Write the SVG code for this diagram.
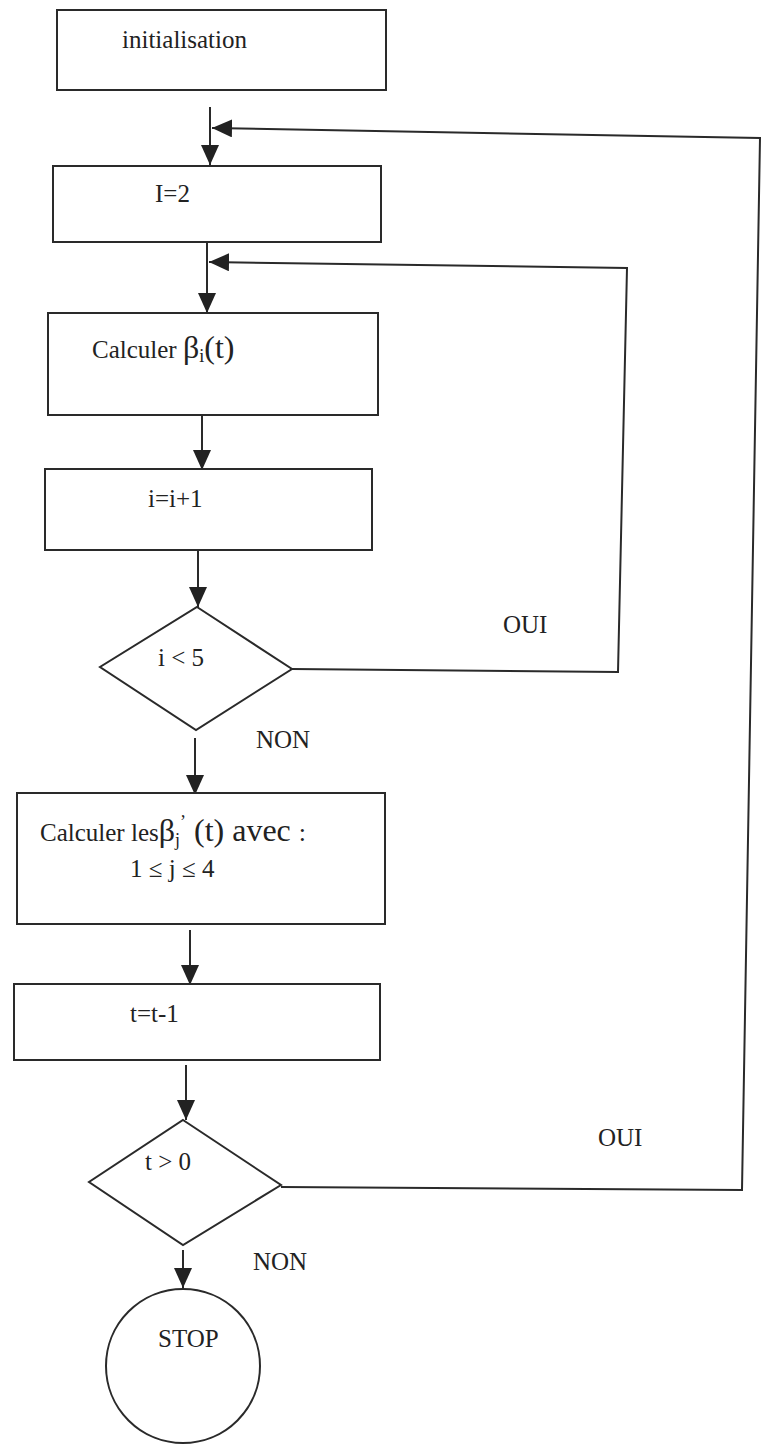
<svg xmlns="http://www.w3.org/2000/svg" width="762" height="1446" viewBox="0 0 762 1446">
<style>
.n{fill:#fff;stroke:#2a2a2a;stroke-width:2}
.c{fill:none;stroke:#2a2a2a;stroke-width:2}
text{font-family:"Liberation Serif","Times New Roman",serif;font-size:25px;fill:#222}
</style>
<defs>
<marker id="ah" markerUnits="userSpaceOnUse" markerWidth="20" markerHeight="18" refX="20" refY="9" orient="auto">
<path d="M0,0 L20,9 L0,18 Z" fill="#222"/>
</marker>
</defs>
<rect width="762" height="1446" fill="#fff"/>
<g id="connectors">
<line class="c" x1="210" y1="107" x2="210" y2="165" marker-end="url(#ah)"/>
<polyline class="c" points="281,1187 742,1190 760,138 212,128" marker-end="url(#ah)"/>
<line class="c" x1="207" y1="240" x2="207" y2="313" marker-end="url(#ah)"/>
<polyline class="c" points="292,669 618,672 627,268 209,262" marker-end="url(#ah)"/>
<line class="c" x1="202" y1="415" x2="202" y2="470" marker-end="url(#ah)"/>
<line class="c" x1="198" y1="550" x2="198" y2="607" marker-end="url(#ah)"/>
<line class="c" x1="195" y1="738" x2="195" y2="795" marker-end="url(#ah)"/>
<line class="c" x1="190" y1="930" x2="190" y2="985" marker-end="url(#ah)"/>
<line class="c" x1="186" y1="1065" x2="186" y2="1120" marker-end="url(#ah)"/>
<line class="c" x1="183" y1="1250" x2="183" y2="1288" marker-end="url(#ah)"/>
<text x="503" y="633">OUI</text>
<text x="256" y="748" font-size="26">NON</text>
<text x="598" y="1146">OUI</text>
<text x="253" y="1270" font-size="26">NON</text>
</g>
<g id="init">
<rect class="n" x="57" y="10" width="329" height="80"/>
<text x="122" y="48" font-size="26">initialisation</text>
</g>
<g id="i2">
<rect class="n" x="53" y="166" width="328" height="76"/>
<text x="155" y="202">I=2</text>
</g>
<g id="calc-beta">
<rect class="n" x="48" y="313" width="330" height="102"/>
<text x="92" y="358">Calculer <tspan font-size="32">β</tspan><tspan font-size="18" dy="4">i</tspan><tspan font-size="32" dy="-4">(t)</tspan></text>
</g>
<g id="incr">
<rect class="n" x="45" y="469" width="327" height="81"/>
<text x="148" y="507">i=i+1</text>
</g>
<g id="cond-i">
<polygon class="n" points="197,607 292,669 196,730 100,667"/>
<text x="158" y="666" font-size="27">i &lt; 5</text>
</g>
<g id="calc-betaj">
<rect class="n" x="17" y="793" width="368" height="131"/>
<text x="40" y="841">Calculer les<tspan font-size="32">β</tspan><tspan font-size="18" dy="5">j</tspan><tspan font-size="18" dy="-18">’</tspan><tspan font-size="32" dy="13"> (t) avec </tspan><tspan font-size="26">:</tspan></text>
<text x="130" y="877" font-size="32">1 ≤ j ≤ 4</text>
</g>
<g id="decr">
<rect class="n" x="14" y="984" width="366" height="76"/>
<text x="130" y="1022">t=t-1</text>
</g>
<g id="cond-t">
<polygon class="n" points="183,1120 281,1185 183,1245 89,1182"/>
<text x="145" y="1170" font-size="28">t &gt; 0</text>
</g>
<g id="stop">
<circle class="n" cx="183" cy="1366" r="77"/>
<text x="158" y="1347" font-size="26">STOP</text>
</g>
</svg>
